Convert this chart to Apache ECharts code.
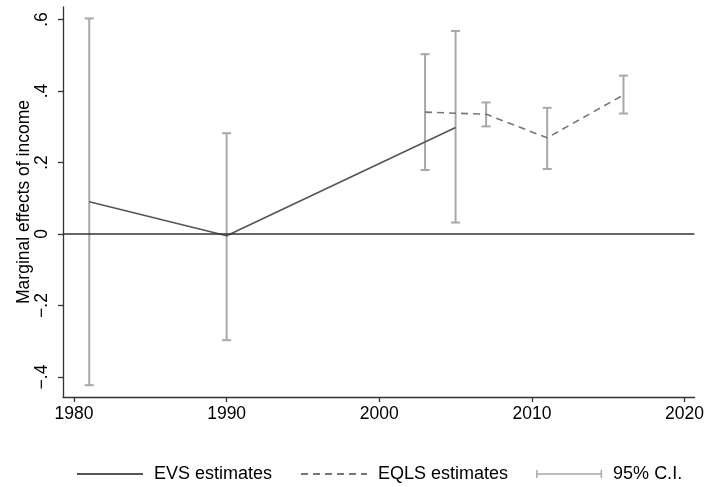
<!DOCTYPE html>
<html>
<head>
<meta charset="utf-8">
<script src="https://cdn.jsdelivr.net/npm/echarts@6.0.0/dist/echarts.min.js"></script>
<style>
  html, body { margin: 0; padding: 0; background: #fff; }
  .chart { width: 707px; height: 487px; }
</style>
</head>
<body>
<div class="chart"></div>
<script>
// EVS waves
const evsYears = [1981, 1990, 2005]
const evsEst = [0.090, -0.005, 0.298]
const evsLow = [-0.423, -0.297, 0.032]
const evsHigh = [0.603, 0.282, 0.568]

// EQLS waves
const eqlsYears = [2003, 2007, 2011, 2016]
const eqlsEst = [0.341, 0.335, 0.269, 0.389]
const eqlsLow = [0.179, 0.301, 0.182, 0.337]
const eqlsHigh = [0.503, 0.368, 0.353, 0.443]

const xTicks = [1980, 1990, 2000, 2010, 2020]
const yTicks = [-0.4, -0.2, 0, 0.2, 0.4, 0.6]

const font = 'Liberation Sans'
const axisColor = '#333'

let evsLine = evsYears.map((y, i) => [y, evsEst[i]])
let eqlsLine = eqlsYears.map((y, i) => [y, eqlsEst[i]])
let ciData = evsYears.map((y, i) => [y, evsLow[i], evsHigh[i]])
  .concat(eqlsYears.map((y, i) => [y, eqlsLow[i], eqlsHigh[i]]))

function fmtY (v) {
  if (v === 0) return '0'
  return (v < 0 ? '\u2212' : '') + String(Math.abs(v)).replace(/^0/, '')
}

let chart = echarts.init(document.querySelector('.chart'))
chart.setOption({
  animation: false,
  backgroundColor: '#fff',
  grid: {
    left: 63,
    right: 9,
    top: 7,
    bottom: 90
  },
  legend: {
    left: 76,
    top: 465,
    padding: 0,
    itemWidth: 66,
    itemHeight: 8,
    itemGap: 28,
    textStyle: {
      fontFamily: font,
      fontSize: 18,
      color: '#000',
      padding: [0, 0, 0, 6]
    },
    data: [
      { name: 'EVS estimates', itemStyle: { opacity: 0 } },
      { name: 'EQLS estimates', itemStyle: { opacity: 0 } },
      { name: '95% C.I.', icon: 'path://M0,0h1.5v8h-1.5z M0,3.25h66v1.5h-66z M64.5,0h1.5v8h-1.5z' }
    ]
  },
  xAxis: {
    type: 'value',
    min: 1979.28,
    max: 2020.65,
    splitLine: { show: false },
    axisLine: { onZero: false, lineStyle: { color: axisColor, width: 1.3 } },
    axisTick: {
      customValues: xTicks,
      length: 5,
      lineStyle: { color: axisColor, width: 1.3 }
    },
    axisLabel: {
      customValues: xTicks,
      margin: 8,
      color: '#000',
      fontFamily: font,
      fontSize: 17.5,
      formatter: v => String(v)
    }
  },
  yAxis: {
    type: 'value',
    min: -0.456,
    max: 0.635,
    name: 'Marginal effects of income',
    nameLocation: 'middle',
    nameGap: 30,
    nameMoveOverlap: false,
    nameTextStyle: {
      color: '#000',
      fontFamily: font,
      fontSize: 17.5
    },
    splitLine: { show: false },
    axisLine: { show: true, onZero: false, lineStyle: { color: axisColor, width: 1.3 } },
    axisTick: {
      show: true,
      customValues: yTicks,
      length: 5,
      lineStyle: { color: axisColor, width: 1.3 }
    },
    axisLabel: {
      customValues: yTicks,
      rotate: 90,
      margin: 12,
      color: '#000',
      fontFamily: font,
      fontSize: 17.5,
      formatter: fmtY
    }
  },
  series: [
    {
      name: '95% C.I.',
      type: 'custom',
      z: 3,
      itemStyle: { color: '#a8a8a8' },
      data: ciData,
      renderItem (params, api) {
        let low = api.coord([api.value(0), api.value(1)])
        let high = api.coord([api.value(0), api.value(2)])
        let hw = 4.5
        let st = { stroke: '#a8a8a8', lineWidth: 2 }
        return {
          type: 'group',
          children: [
            { type: 'line', shape: { x1: low[0], y1: low[1], x2: high[0], y2: high[1] }, style: st },
            { type: 'line', shape: { x1: low[0] - hw, y1: low[1], x2: low[0] + hw, y2: low[1] }, style: st },
            { type: 'line', shape: { x1: high[0] - hw, y1: high[1], x2: high[0] + hw, y2: high[1] }, style: st }
          ]
        }
      }
    },
    {
      name: 'EVS estimates',
      type: 'line',
      z: 4,
      symbol: 'none',
      data: evsLine,
      itemStyle: { color: '#555' },
      lineStyle: { color: '#555', width: 1.6 },
      // zero reference line
      markLine: {
        silent: true,
        symbol: 'none',
        label: { show: false },
        lineStyle: { color: '#333', width: 1.6, type: 'solid' },
        data: [{ yAxis: 0 }]
      }
    },
    {
      name: 'EQLS estimates',
      type: 'line',
      z: 4,
      symbol: 'none',
      data: eqlsLine,
      itemStyle: { color: '#777' },
      lineStyle: { color: '#777', width: 1.6, type: [7, 5] }
    }
  ]
})
</script>
</body>
</html>
